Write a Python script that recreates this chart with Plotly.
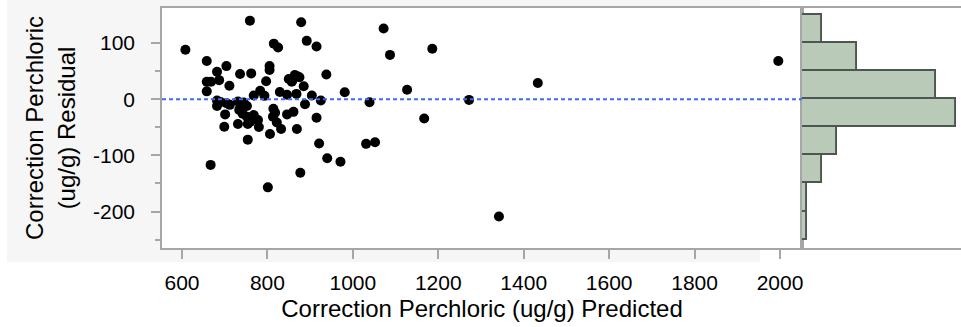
import plotly.graph_objects as go

# ---- data ----
predicted = [608, 759, 879, 1072, 815, 825, 892, 915, 1186, 1087,
             658, 704, 682, 736, 762, 805, 805, 938, 797, 658,
             668, 687, 711, 658, 850, 864, 875, 857, 885, 829,
             783, 768, 793, 846, 868, 904, 925, 981, 1127, 1039,
             1272, 682, 682, 704, 731, 752, 734, 701, 768, 752,
             814, 813, 861, 846, 888, 915, 778, 822, 731, 754,
             780, 699, 832, 869, 806, 754, 921, 1031, 1052, 1167,
             940, 971, 667, 877, 801, 1433, 1342, 1996,
             858, 870, 690, 712, 744, 742, 760, 818]
residual = [88, 140, 137, 126, 99, 92, 104, 94, 90, 79,
            68, 59, 49, 45, 46, 59, 52, 44, 32, 31,
            31, 34, 24, 14, 36, 43, 39, 31, 23, 13,
            15, 6.5, 6, 8, 9.5, 6.5, -2.4, 12.4, 17, -5.4,
            -1.2, -2.4, -12, -7, -4, -12, -19, -27, -28, -31,
            -17, -31, -22.5, -27, -9, -33, -37, -41.5, -44, -44,
            -49.5, -49, -53, -53, -62, -72, -79, -79.5, -76.6, -34.4,
            -105, -111.5, -117, -131, -157, 29, -209, 68,
            33, 41, -5, -10, -6, -26, -40, -24]

x_tick_vals = [600, 800, 1000, 1200, 1400, 1600, 1800, 2000]
x_tick_text = ["600", "800", "1000", "1200", "1400", "1600", "1800", "2000"]
y_tick_vals = [-200, -100, 0, 100]
y_tick_text = ["-200", "-100", "0", "100"]
y_minor_vals = [-250, -150, -50, 50]
hist_start, hist_end, hist_size = -250, 150, 50

x_title = "Correction Perchloric (ug/g) Predicted"
y_title = "Correction Perchloric<br>(ug/g) Residual"

FONT = "Liberation Sans, Arial, Helvetica, sans-serif"
FRAME = "#a6a6a6"

W, H = 961, 327
ML, MT, MB = 162, 8, 79
split = (802 - ML) / (W - ML)

fig = go.Figure()
fig.add_trace(go.Scatter(
    x=predicted, y=residual, mode="markers",
    marker=dict(color="black", size=10, line=dict(width=0)),
    xaxis="x", yaxis="y", showlegend=False, hoverinfo="skip"))
fig.add_trace(go.Histogram(
    y=residual, ybins=dict(start=hist_start, end=hist_end, size=hist_size),
    marker=dict(color="#bacab9", line=dict(color="#4d574f", width=1.9)),
    xaxis="x2", yaxis="y2", showlegend=False, hoverinfo="skip"))

# background panel (gray) and white plotting area
ph = H - MT - MB
pw = W - ML
fig.add_shape(type="rect", xref="paper", yref="paper",
              x0=(7 - ML) / pw, x1=(760 - ML) / pw,
              y0=(H - MB - 262) / ph, y1=(H - MB) / ph,
              fillcolor="#f6f6f6", line=dict(width=0), layer="below")
fig.add_shape(type="rect", xref="x domain", yref="y domain",
              x0=0, x1=1, y0=0, y1=1,
              fillcolor="white", line=dict(width=0), layer="below")
# zero reference line
fig.add_shape(type="line", xref="x domain", yref="y",
              x0=0, x1=1, y0=0, y1=0,
              line=dict(color="#3c6cf0", width=2, dash="4px,3px"))

fig.update_layout(
    width=W, height=H,
    margin=dict(l=ML, r=0, t=MT, b=MB),
    paper_bgcolor="white", plot_bgcolor="white",
    font=dict(family=FONT, color="black"),
    bargap=0,
    xaxis=dict(domain=[0, split], range=[553.2, 2051.5],
               tickmode="array", tickvals=x_tick_vals, ticktext=x_tick_text,
               ticks="outside", ticklen=9, tickwidth=1.5, tickcolor=FRAME,
               showline=True, linecolor=FRAME, linewidth=1.5, mirror=True,
               showgrid=False, zeroline=False,
               tickfont=dict(size=21), ticklabelstandoff=6,
               title=dict(text=x_title, font=dict(size=24), standoff=7)),
    yaxis=dict(domain=[0, 1], range=[-265, 162.5],
               tickmode="array", tickvals=y_tick_vals, ticktext=y_tick_text,
               ticks="outside", ticklen=9, tickwidth=1.5, tickcolor=FRAME,
               minor=dict(tickvals=y_minor_vals, ticks="outside", ticklen=5,
                          tickwidth=1.5, tickcolor=FRAME, showgrid=False),
               showline=True, linecolor=FRAME, linewidth=1.5, mirror=True,
               showgrid=False, zeroline=False,
               tickfont=dict(size=21), ticklabelstandoff=12,
               title=dict(text=y_title, font=dict(size=24), standoff=11)),
    xaxis2=dict(domain=[split, 1], range=[0, 32.0], anchor="y2",
                showticklabels=False, ticks="", showgrid=False, zeroline=False,
                showline=True, linecolor=FRAME, linewidth=1.5, mirror=True),
    yaxis2=dict(domain=[0, 1], anchor="x2", matches="y",
                showticklabels=False, ticks="", showgrid=False, zeroline=False,
                showline=True, linecolor=FRAME, linewidth=1.5),
)

fig.write_html("out.html")
